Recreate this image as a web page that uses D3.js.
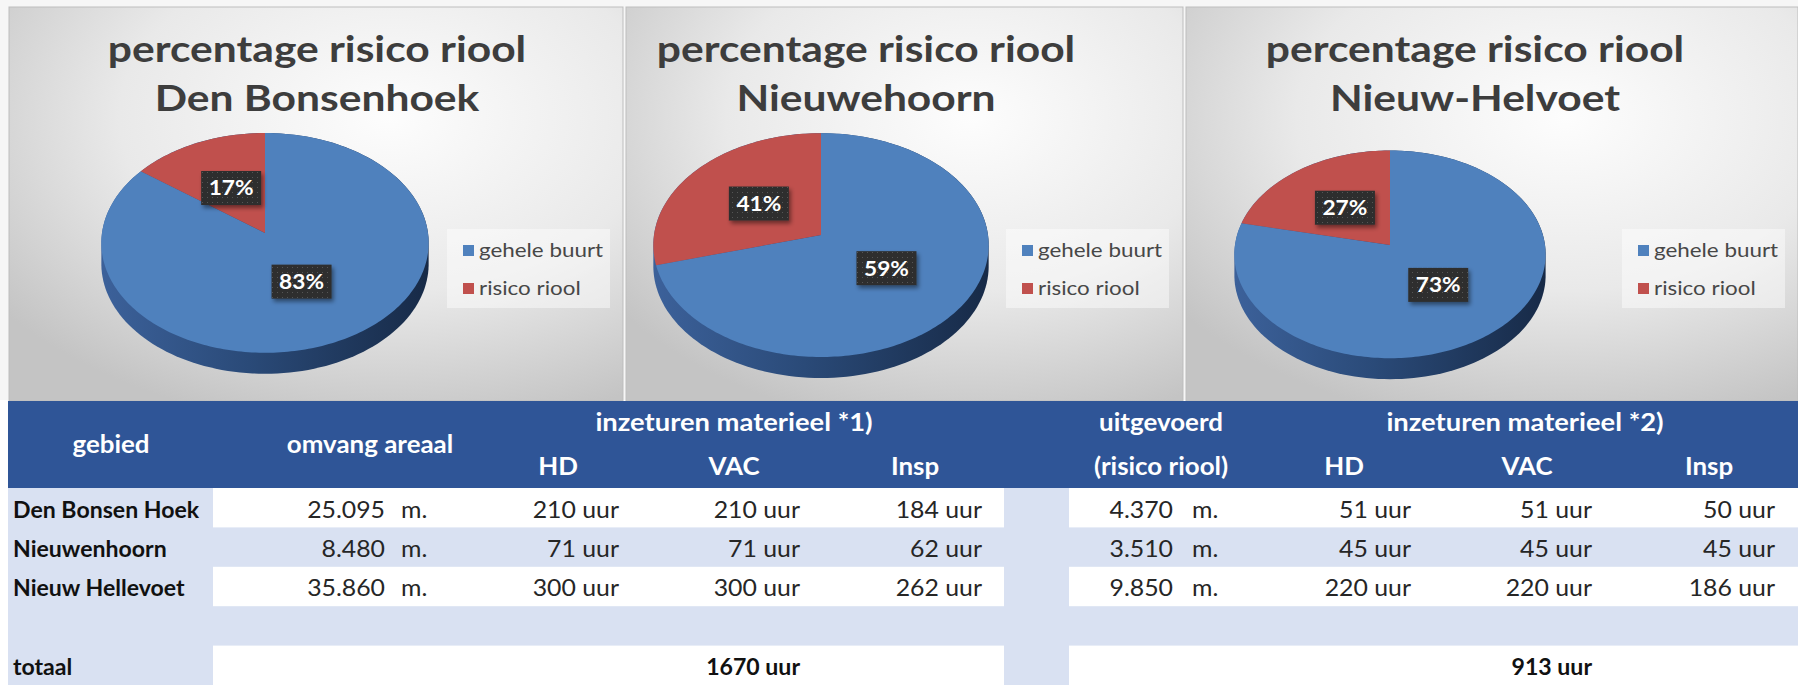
<!DOCTYPE html>
<html>
<head>
<meta charset="utf-8">
<script src="https://cdn.jsdelivr.net/npm/d3@7"></script>
<style>
  body { margin: 0; background: #fff; }
  svg { display: block; font-family: Lato, "Open Sans", sans-serif; }
</style>
</head>
<body>
<div id="chart"></div>
<script>
// data
const chartTitles = ["Den Bonsenhoek", "Nieuwehoorn", "Nieuw-Helvoet"];
const legendLabels = ["gehele buurt", "risico riool"];
const pctLabels = [[83, 17], [59, 41], [73, 27]];

const gebied = ["Den Bonsen Hoek", "Nieuwenhoorn", "Nieuw Hellevoet"];
const omvang = [25095, 8480, 35860];
const uitgevoerd = [4370, 3510, 9850];
const hd1 = [210, 71, 300];
const vac1 = [210, 71, 300];
const insp1 = [184, 62, 262];
const hd2 = [51, 45, 220];
const vac2 = [51, 45, 220];
const insp2 = [50, 45, 186];

const W = 1798, H = 685;
const SX = 1.08; // text looks a bit stretched horizontally
const blue = "#4F81BD", red = "#C0504D", head = "#2F5597", light = "#D9E1F2";

const nl = d3.formatLocale({decimal: ",", thousands: ".", grouping: [3], currency: ["€", ""]});
const fmt = nl.format(",d");

const svg = d3.select("#chart").append("svg")
    .attr("width", W)
    .attr("height", H);

const defs = svg.append("defs");

const bg = defs.append("radialGradient")
    .attr("id", "panelBg")
    .attr("cx", 0.62).attr("cy", 0.28).attr("r", 0.8);
bg.append("stop").attr("offset", 0).attr("stop-color", "#fdfdfd");
bg.append("stop").attr("offset", 0.55).attr("stop-color", "#e9e9e9");
bg.append("stop").attr("offset", 1).attr("stop-color", "#c4c4c4");

const side = defs.append("linearGradient").attr("id", "pieSide");
side.append("stop").attr("offset", 0).attr("stop-color", "#3c619a");
side.append("stop").attr("offset", 0.45).attr("stop-color", "#2a4a78");
side.append("stop").attr("offset", 1).attr("stop-color", "#172a47");

const dots = defs.append("pattern")
    .attr("id", "dots")
    .attr("width", 5).attr("height", 5)
    .attr("patternUnits", "userSpaceOnUse");
dots.append("rect").attr("width", 5).attr("height", 5).attr("fill", "#2e2e2e");
dots.append("rect").attr("x", 2).attr("y", 2).attr("width", 1).attr("height", 1).attr("fill", "#555");

const shadow = defs.append("filter").attr("id", "shadow")
    .attr("x", "-20%").attr("y", "-20%").attr("width", "150%").attr("height", "160%");
shadow.append("feDropShadow")
    .attr("dx", 2).attr("dy", 3).attr("stdDeviation", 2)
    .attr("flood-color", "#000").attr("flood-opacity", 0.45);

function txt(sel, x, y, str, o) {
    return sel.append("text")
        .attr("transform", `translate(${x},${y}) scale(${o.sx || SX},1)`)
        .attr("text-anchor", o.anchor || "start")
        .attr("font-size", o.size + "px")
        .attr("font-weight", o.weight || "normal")
        .attr("fill", o.fill || "#262626")
        .text(str);
}

// top strip
svg.append("rect").attr("width", W).attr("height", 400).attr("fill", "#f6f6f6");

// pie panels
const panels = [
    {x0: 9, x1: 623, cx: 265, cy: 233, rx: 163, ry: 109, tx: 317, lx: 447},
    {x0: 626, x1: 1183, cx: 821, cy: 235, rx: 167, ry: 111, tx: 866, lx: 1006},
    {x0: 1186, x1: 1798, cx: 1390, cy: 245, rx: 155, ry: 103, tx: 1475, lx: 1622}
];
const persp = 0.09, depth = 21;

const pie = d3.pie().sort(null).value(d => d);
const labelArc = d3.arc().innerRadius(0).outerRadius(0.96);

panels.forEach(function (p, i) {
    const g = svg.append("g");

    g.append("rect")
        .attr("x", p.x0).attr("y", 7)
        .attr("width", p.x1 - p.x0).attr("height", 394)
        .attr("fill", "url(#panelBg)")
        .attr("stroke", "#bdbdbd");

    // perspective projection of a point on the unit disc
    const proj = function (a, r) {
        const s = 1 / (1 + persp * r * Math.cos(a));
        return [p.cx + p.rx * r * Math.sin(a) * s, p.cy - p.ry * r * Math.cos(a) * s];
    };

    // pie side (thickness)
    const rim = d3.range(0, 361, 2).map(d => proj(d * Math.PI / 180, 1));
    const hull = d3.polygonHull(rim.concat(rim.map(d => [d[0], d[1] + depth])));
    g.append("path")
        .attr("d", "M" + hull.join("L") + "Z")
        .attr("fill", "url(#pieSide)");

    // slices
    const arcs = pie([omvang[i], uitgevoerd[i]]);
    const line = d3.line();
    g.selectAll(".slice").data(arcs).join("path")
        .attr("class", "slice")
        .attr("d", function (d) {
            const n = Math.max(2, Math.ceil((d.endAngle - d.startAngle) / 0.02));
            const pts = [proj(0, 0)];
            for (let k = 0; k <= n; k++) {
                pts.push(proj(d.startAngle + (d.endAngle - d.startAngle) * k / n, 1));
            }
            return line(pts) + "Z";
        })
        .attr("fill", (d, j) => j === 0 ? blue : red);

    // data labels
    arcs.forEach(function (d, j) {
        const c = labelArc.centroid(d);
        const r = Math.hypot(c[0], c[1]);
        const a = Math.atan2(c[0], -c[1]);
        const pt = proj(a, r);
        g.append("rect")
            .attr("x", pt[0] - 30).attr("y", pt[1] - 17)
            .attr("width", 60).attr("height", 34)
            .attr("fill", "url(#dots)")
            .attr("filter", "url(#shadow)");
        txt(g, pt[0], pt[1] + 7.5, pctLabels[i][j] + "%", {size: 21, weight: "bold", fill: "#fff", anchor: "middle"});
    });

    // titles
    const tt = {size: 37, sx: 1.15, weight: "bold", fill: "#3d3d3d", anchor: "middle"};
    txt(g, p.tx, 62, "percentage risico riool", tt);
    txt(g, p.tx, 111, chartTitles[i], tt);

    // legend
    g.append("rect")
        .attr("x", p.lx).attr("y", 229)
        .attr("width", 163).attr("height", 79)
        .attr("fill", "#fff").attr("opacity", 0.45);
    legendLabels.forEach(function (l, j) {
        g.append("rect")
            .attr("x", p.lx + 16).attr("y", 245 + j * 38)
            .attr("width", 11).attr("height", 11)
            .attr("fill", j === 0 ? blue : red);
        txt(g, p.lx + 32, 257 + j * 38, l, {size: 20, sx: 1.12, fill: "#474747"});
    });
});

// table
const tableX0 = 8, headY0 = 401, headY1 = 488;
const rowY = d3.scaleBand().domain(d3.range(5)).range([headY1, H]);

svg.append("rect")
    .attr("x", tableX0).attr("y", headY0)
    .attr("width", W - tableX0).attr("height", headY1 - headY0)
    .attr("fill", head);

// row backgrounds: odd rows light blue, label column and spacer column always light
rowY.domain().forEach(function (r) {
    svg.append("rect")
        .attr("x", tableX0).attr("y", rowY(r))
        .attr("width", W - tableX0).attr("height", rowY.bandwidth() + 0.5)
        .attr("fill", r % 2 === 1 ? light : "#fff");
});
svg.append("rect")
    .attr("x", tableX0).attr("y", headY1)
    .attr("width", 213 - tableX0).attr("height", H - headY1)
    .attr("fill", light);
svg.append("rect")
    .attr("x", 1004).attr("y", headY1)
    .attr("width", 65).attr("height", H - headY1)
    .attr("fill", light);

// header texts
const hw = {size: 24, weight: "bold", fill: "#fff", anchor: "middle"};
const hw2 = Object.assign({}, hw, {sx: 1.14});
txt(svg, 111, 453, "gebied", hw);
txt(svg, 370, 453, "omvang areaal", hw);
txt(svg, 734, 431, "inzeturen materieel *1)", hw2);
txt(svg, 1161, 431, "uitgevoerd", hw);
txt(svg, 1161, 475, "(risico riool)", hw);
txt(svg, 1525, 431, "inzeturen materieel *2)", hw2);
const subCols = [["HD", 558], ["VAC", 734], ["Insp", 915], ["HD", 1344], ["VAC", 1527], ["Insp", 1709]];
subCols.forEach(d => txt(svg, d[1], 475, d[0], hw));

// body
const cols = [
    {vals: hd1, right: 619},
    {vals: vac1, right: 800},
    {vals: insp1, right: 982},
    {vals: hd2, right: 1411},
    {vals: vac2, right: 1592},
    {vals: insp2, right: 1775}
];
const bw = {size: 23};
const bb = {size: 22, sx: 1.05, weight: "bold", fill: "#111"};
gebied.forEach(function (name, r) {
    const y = rowY(r) + 29.5;
    txt(svg, 13, y, name, bb);
    txt(svg, 385, y, fmt(omvang[r]), Object.assign({anchor: "end"}, bw));
    txt(svg, 401, y, "m.", bw);
    txt(svg, 1173, y, fmt(uitgevoerd[r]), Object.assign({anchor: "end"}, bw));
    txt(svg, 1192, y, "m.", bw);
    cols.forEach(c => txt(svg, c.right, y, c.vals[r] + " uur", Object.assign({anchor: "end"}, bw)));
});

const totY = rowY(4) + 29.5;
const total1 = d3.sum(hd1) + d3.sum(vac1) + d3.sum(insp1);
const total2 = d3.sum(hd2) + d3.sum(vac2) + d3.sum(insp2);
txt(svg, 13, totY, "totaal", bb);
txt(svg, 800, totY, total1 + " uur", Object.assign({anchor: "end"}, bb));
txt(svg, 1592, totY, total2 + " uur", Object.assign({anchor: "end"}, bb));
</script>
</body>
</html>
